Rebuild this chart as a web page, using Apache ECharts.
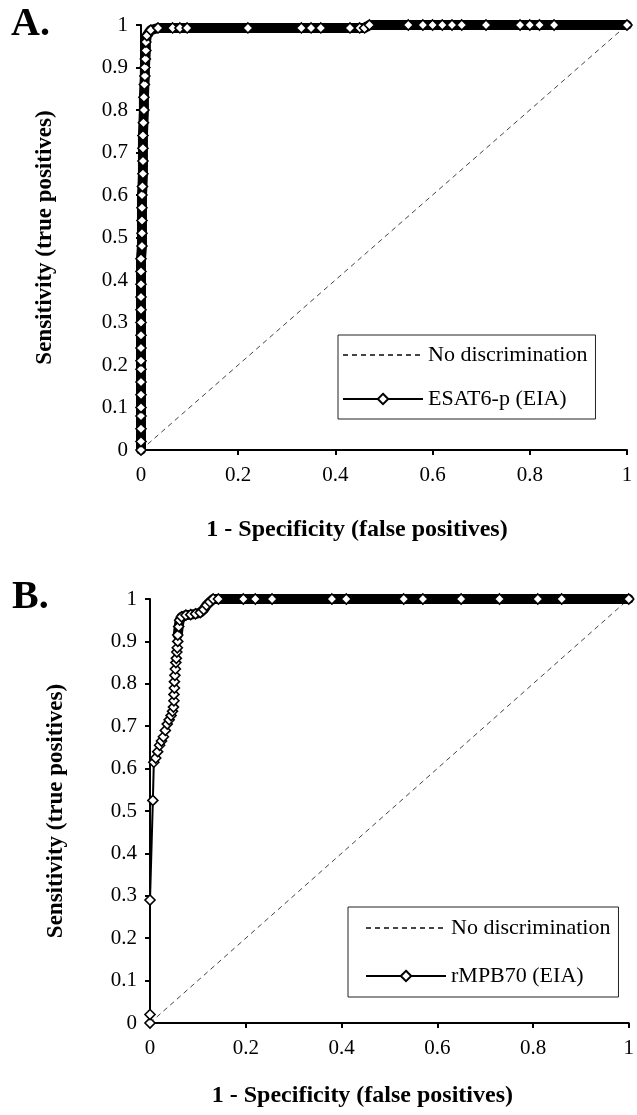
<!DOCTYPE html>
<html>
<head>
<meta charset="utf-8">
<script src="https://cdn.jsdelivr.net/npm/echarts@6/dist/echarts.min.js"></script>
<style>
  html, body { margin: 0; padding: 0; background: #fff; }
  #chart { width: 637px; height: 1115px; }
</style>
</head>
<body>
<div id="chart"></div>
<script>
// reference line, both panels
const diagX = [0, 1];
const diagY = [0, 1];

// panel A: ESAT6-p (EIA)
const esatX = [0, 0, 0, 0, 0, 0, 0, 0, 0, 0, 0, 0, 0, 0, 0, 0, 0,
  0.002, 0.002, 0.002, 0.002, 0.002, 0.003, 0.004, 0.004, 0.004, 0.004, 0.005, 0.006, 0.006,
  0.007, 0.008, 0.008, 0.009, 0.01, 0.01, 0.012, 0.02, 0.035,
  0.065, 0.08, 0.095, 0.22, 0.33, 0.35, 0.37, 0.43, 0.45, 0.46,
  0.47, 0.55, 0.58, 0.6, 0.62, 0.64, 0.66, 0.71, 0.78, 0.8, 0.82, 0.85, 1];
const esatY = [0, 0.02, 0.05, 0.08, 0.1, 0.13, 0.16, 0.19, 0.21, 0.24, 0.27, 0.3, 0.33, 0.36, 0.39, 0.42, 0.45,
  0.48, 0.51, 0.54, 0.57, 0.6, 0.62, 0.65, 0.68, 0.71, 0.74, 0.77, 0.8, 0.83,
  0.86, 0.88, 0.9, 0.92, 0.94, 0.96, 0.975, 0.988, 0.993,
  0.993, 0.993, 0.993, 0.993, 0.993, 0.993, 0.993, 0.993, 0.993, 0.993,
  1, 1, 1, 1, 1, 1, 1, 1, 1, 1, 1, 1, 1];

// panel B: rMPB70 (EIA), steep part then the flat top
const mpbRiseX = [0, 0, 0, 0.006, 0.008, 0.012, 0.016, 0.02, 0.024, 0.028, 0.032, 0.036, 0.04, 0.044,
  0.047, 0.049, 0.05, 0.05, 0.051, 0.051, 0.052, 0.053, 0.054, 0.055, 0.056, 0.057, 0.058];
const mpbRiseY = [0, 0.02, 0.29, 0.525, 0.615, 0.625, 0.64, 0.655, 0.665, 0.675, 0.69, 0.705, 0.715, 0.725,
  0.735, 0.745, 0.76, 0.775, 0.79, 0.805, 0.82, 0.835, 0.85, 0.86, 0.875, 0.885, 0.9];
const mpbTopX = [0.058, 0.06, 0.062, 0.066, 0.075, 0.085, 0.095, 0.105, 0.112, 0.118, 0.125, 0.132,
  0.143, 0.195, 0.22, 0.255, 0.38, 0.41, 0.53, 0.57, 0.65, 0.73, 0.81, 0.86, 1];
const mpbTopY = [0.915, 0.935, 0.95, 0.958, 0.962, 0.963, 0.965, 0.968, 0.975, 0.985, 0.993, 1,
  1, 1, 1, 1, 1, 1, 1, 1, 1, 1, 1, 1, 1];

const serif = "'Liberation Serif', 'Times New Roman', serif";
const zip = (xs, ys) => xs.map((x, i) => [x, ys[i]]);

function axisX(grid, gap) {
  return {
    type: 'value', gridIndex: grid, min: 0, max: 1, interval: 0.2,
    axisLine: { lineStyle: { color: '#000', width: 2 } },
    axisTick: { length: 5, lineStyle: { color: '#000', width: 2 } },
    axisLabel: { color: '#000', fontFamily: serif, fontSize: 21, margin: 15 },
    splitLine: { show: false },
    name: '1 - Specificity (false positives)', nameLocation: 'middle', nameGap: gap,
    nameTextStyle: { color: '#000', fontFamily: serif, fontSize: 24, fontWeight: 'bold', padding: [0, 54, 0, 0] }
  };
}
function axisY(grid, gap) {
  return {
    type: 'value', gridIndex: grid, min: 0, max: 1, interval: 0.1,
    axisLine: { lineStyle: { color: '#000', width: 2 } },
    axisTick: { length: 5, lineStyle: { color: '#000', width: 2 } },
    axisLabel: { color: '#000', fontFamily: serif, fontSize: 21, margin: 13 },
    splitLine: { show: false },
    name: 'Sensitivity (true positives)', nameLocation: 'middle', nameGap: gap,
    nameTextStyle: { color: '#000', fontFamily: serif, fontSize: 23, fontWeight: 'bold' }
  };
}
function panel(idx, name, pts, bandPts) {
  return [
    {
      name: 'No discrimination', type: 'line', xAxisIndex: idx, yAxisIndex: idx,
      data: zip(diagX, diagY), symbol: 'none', z: 1, clip: false,
      lineStyle: { color: '#444', width: 1, type: [5, 4] }
    },
    {
      name: name, type: 'line', xAxisIndex: idx, yAxisIndex: idx,
      data: pts, symbol: 'diamond', symbolSize: 10, z: 4, clip: false,
      lineStyle: { color: '#000', width: 2 },
      itemStyle: { color: '#fff', borderColor: '#000', borderWidth: 1.6 }
    },
    {
      name: name, type: 'line', xAxisIndex: idx, yAxisIndex: idx,
      data: bandPts, symbol: 'none', z: 3, clip: false,
      lineStyle: { color: '#000', width: 10, cap: 'round', join: 'round' }
    }
  ];
}

const esatPts = zip(esatX, esatY);
const mpbTopPts = zip(mpbTopX, mpbTopY);
const mpbPts = zip(mpbRiseX, mpbRiseY).concat(mpbTopPts);

function legend(left, top, gap, pad, name) {
  return {
    left: left, top: top, orient: 'vertical', itemGap: gap, padding: pad,
    itemWidth: 80, itemHeight: 13,
    borderColor: '#222', borderWidth: 1, backgroundColor: '#fff',
    textStyle: { color: '#000', fontFamily: serif, fontSize: 22 },
    data: [{ name: 'No discrimination', itemStyle: { opacity: 0 } }, name]
  };
}

const option = {
  animation: false,
  backgroundColor: '#fff',
  title: [
    { text: 'A.', left: 11, top: 5, padding: 0, textStyle: { fontFamily: serif, fontSize: 40, fontWeight: 'bold', color: '#000' } },
    { text: 'B.', left: 12, top: 578, padding: 0, textStyle: { fontFamily: serif, fontSize: 40, fontWeight: 'bold', color: '#000' } }
  ],
  legend: [
    legend(338, 335, 22, [9, 8, 9, 4], 'ESAT6-p (EIA)'),
    legend(348, 907, 26, [10, 8, 10, 17], 'rMPB70 (EIA)')
  ],
  grid: [
    { left: 141, top: 25, width: 486, height: 425 },
    { left: 150, top: 599, width: 482, height: 424 }
  ],
  xAxis: [axisX(0, 68), axisX(1, 61)],
  yAxis: [axisY(0, 84), axisY(1, 82)],
  series: panel(0, 'ESAT6-p (EIA)', esatPts, esatPts)
    .concat(panel(1, 'rMPB70 (EIA)', mpbPts, mpbTopPts))
};

document.addEventListener('DOMContentLoaded', function () {
  const chart = echarts.init(document.getElementById('chart'));
  chart.setOption(option);
});
</script>
</body>
</html>
